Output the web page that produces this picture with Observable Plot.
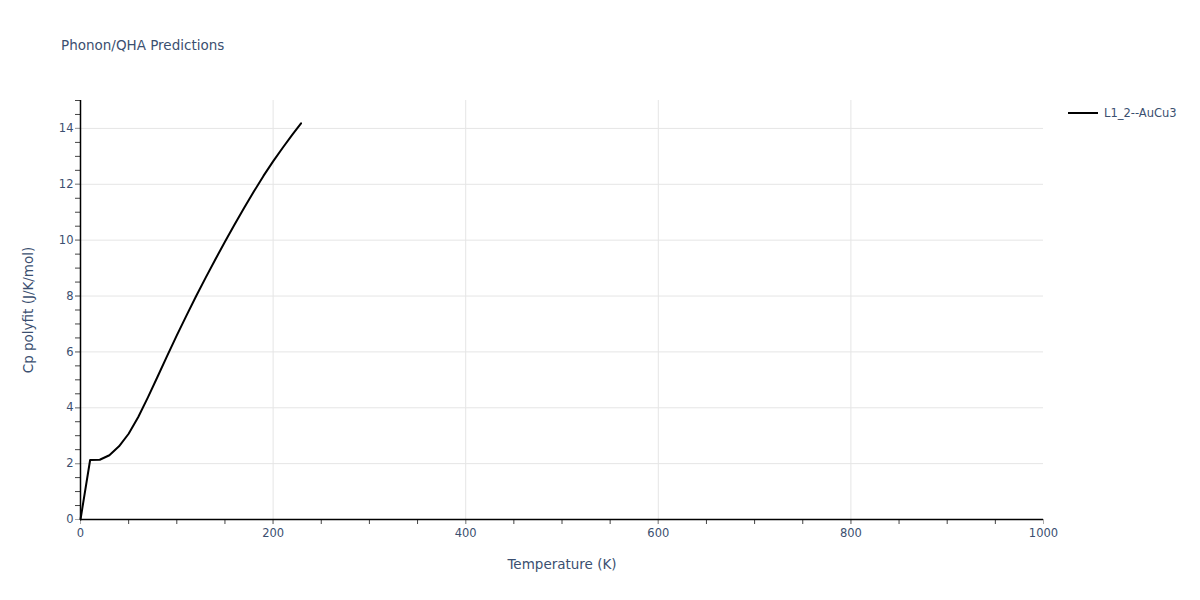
<!DOCTYPE html>
<html>
<head>
<meta charset="utf-8">
<script src="https://cdn.jsdelivr.net/npm/d3@7"></script>
<script src="https://cdn.jsdelivr.net/npm/@observablehq/plot@0.6"></script>
<style>
  html, body { margin: 0; padding: 0; background: #fff; }
  body { width: 1200px; height: 600px; position: relative; font-family: "DejaVu Sans", sans-serif; color: #2a3f5f; }
  #title { position: absolute; left: 61px; top: 37px; font-size: 13.5px; color: #3b4f70; }
  #legend { position: absolute; left: 1068px; top: 106px; font-size: 11.5px; color: #3b4f70; display: flex; align-items: center; }
  #legend .sw { width: 30px; height: 2px; background: #000; margin-right: 6px; }
  #chart { position: absolute; left: 0; top: 0; }
</style>
</head>
<body>
<div id="chart"></div>
<div id="title">Phonon/QHA Predictions</div>
<div id="legend"><span class="sw"></span><span>L1_2--AuCu3</span></div>
<script>
const seriesName = "L1_2--AuCu3";
const temperature = [0, 10, 20, 30, 40, 50, 60, 70, 80, 90, 100, 110, 120, 130, 140, 150, 160, 170, 180, 190, 200, 210, 220, 229];
const cp = [0, 2.13, 2.14, 2.30, 2.62, 3.07, 3.67, 4.37, 5.11, 5.86, 6.59, 7.30, 7.99, 8.66, 9.31, 9.94, 10.56, 11.16, 11.74, 12.30, 12.82, 13.31, 13.78, 14.18];
const xTicks = [0, 200, 400, 600, 800, 1000];
const xMinor = d3.range(0, 1001, 50);
const yTicks = [0, 2, 4, 6, 8, 10, 12, 14];
const yMinor = d3.range(0, 15.01, 0.5);

const data = temperature.map((t, i) => ({t, cp: cp[i]}));
const txt = "#3b4f70";

const chart = Plot.plot({
  width: 1200,
  height: 600,
  marginTop: 100,
  marginBottom: 81,
  marginLeft: 80,
  marginRight: 157,
  style: {fontFamily: "'DejaVu Sans', sans-serif", fontSize: "11.5px", color: txt, background: "transparent"},
  x: {domain: [0, 1000]},
  y: {domain: [0, 15]},
  marks: [
    Plot.gridX(xTicks.filter(d => d > 0 && d < 1000), {stroke: "#e5e5e5", strokeOpacity: 1, strokeWidth: 1}),
    Plot.gridY(yTicks.filter(d => d > 0), {stroke: "#e5e5e5", strokeOpacity: 1, strokeWidth: 1}),
    Plot.axisX(xMinor, {tickSize: 5, stroke: "#444", text: null, label: null}),
    Plot.axisX(xTicks, {tickSize: 5, stroke: "#aaa", tickPadding: 4, tickFormat: "d", fontSize: 11.5, fill: txt, label: null}),
    Plot.axisY(yMinor, {tickSize: 5, stroke: "#444", text: null, label: null}),
    Plot.axisY(yTicks, {tickSize: 5, stroke: "#aaa", tickPadding: 2, tickFormat: "d", fontSize: 11.5, fill: txt, label: null}),
    Plot.ruleY([0], {stroke: "#000", strokeWidth: 1.5}),
    Plot.ruleX([0], {y1: 0, y2: 15, stroke: "#000", strokeWidth: 1.5}),
    Plot.line(data, {x: "t", y: "cp", stroke: "#000", strokeWidth: 2}),
    Plot.text(["Temperature (K)"], {frameAnchor: "bottom", dy: 49, fontSize: 13.5, fill: txt}),
    Plot.text(["Cp polyfit (J/K/mol)"], {frameAnchor: "left", dx: -52, rotate: -90, textAnchor: "middle", fontSize: 13.5, fill: txt})
  ]
});
document.getElementById("chart").appendChild(chart);
</script>
</body>
</html>
